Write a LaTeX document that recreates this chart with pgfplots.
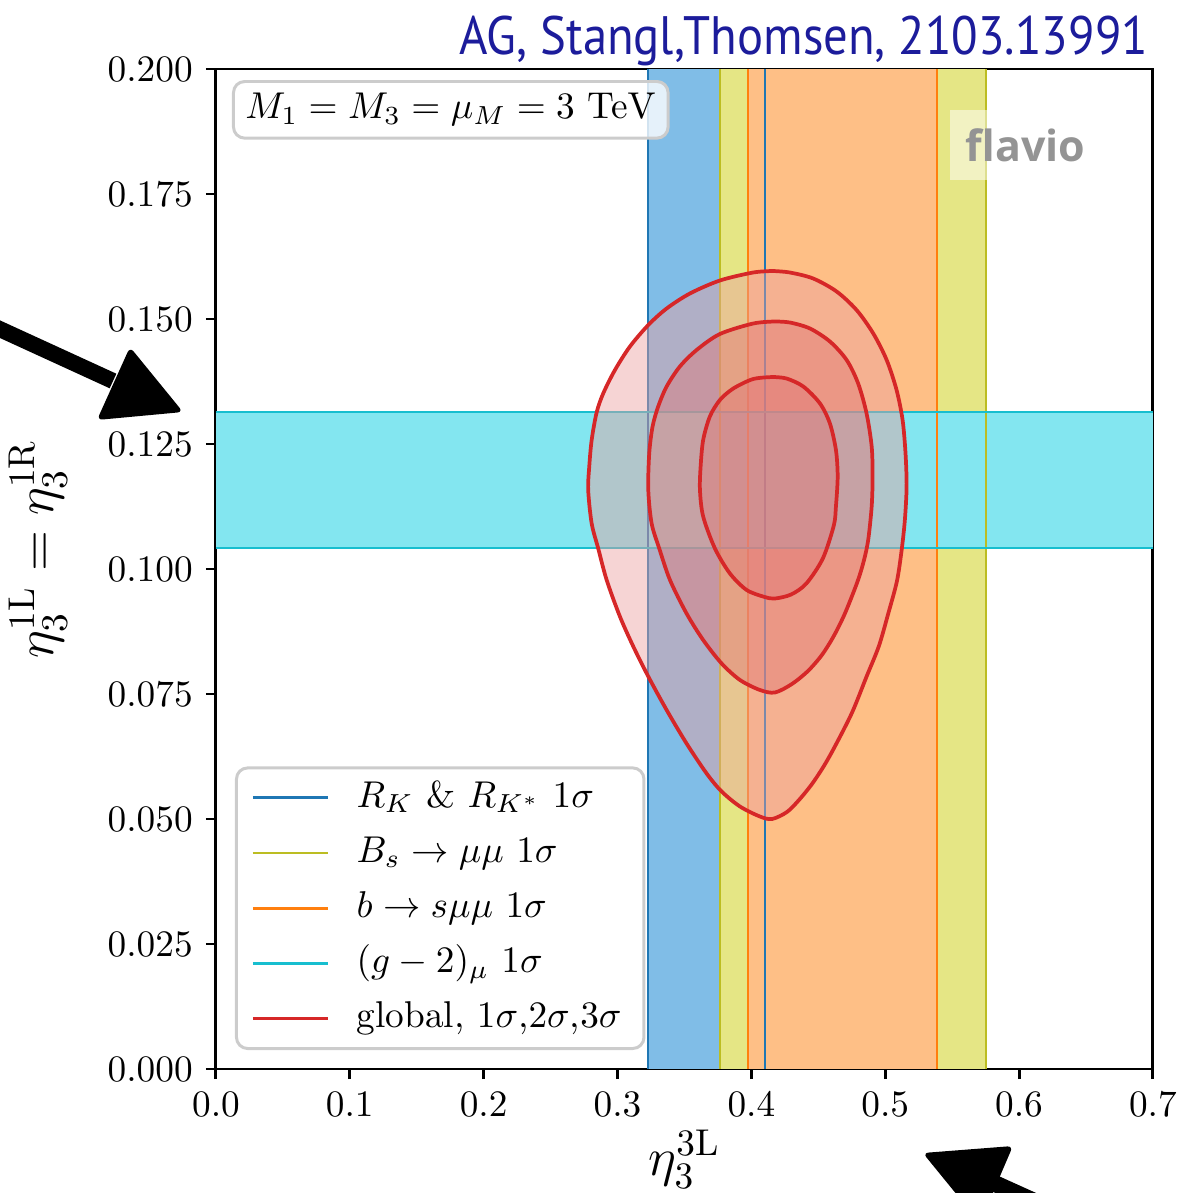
\documentclass[border=0pt]{standalone}
\usepackage[no-math]{fontspec}
\usepackage{pgfplots}
\pgfplotsset{compat=1.18}
\newfontfamily\gillfont{PT Sans}
\newfontfamily\flaviofont{Open Sans}
\protected\def\legA{$R_K$ \& $R_{K^*}$ $1\sigma$}
\protected\def\legB{$B_s\rightarrow\mu\mu$ $1\sigma$}
\protected\def\legC{$b\rightarrow s\mu\mu$ $1\sigma$}
\protected\def\legD{$(g-2)_{\mu}$ $1\sigma$}
\protected\def\legE{global, $1\sigma$,$2\sigma$,$3\sigma$}
\protected\def\boxtext{$M_1 = M_3 = \mu_M = 3~\mathrm{TeV}$}
\definecolor{tabblue}{HTML}{1F77B4}
\definecolor{tabolive}{HTML}{BCBD22}
\definecolor{taborange}{HTML}{FF7F0E}
\definecolor{tabcyan}{HTML}{17BECF}
\definecolor{tabred}{HTML}{D62728}
\definecolor{fblue}{RGB}{128,189,231}
\definecolor{folive}{RGB}{229,230,133}
\definecolor{forange}{RGB}{254,191,134}
\definecolor{fcyan}{RGB}{131,230,240}
\definecolor{fred3}{RGB}{235,160,160}
\definecolor{fred2}{RGB}{225,120,120}
\definecolor{agblue}{RGB}{28,28,155}
\begin{document}
\begin{tikzpicture}
\begin{axis}[
  width=251.1pt, height=268pt, scale only axis,
  xmin=0, xmax=0.7, ymin=0, ymax=0.2,
  xtick={0,0.1,0.2,0.3,0.4,0.5,0.6,0.7},
  ytick={0,0.025,0.05,0.075,0.1,0.125,0.15,0.175,0.2},
  scaled ticks=false,
  xticklabel style={/pgf/number format/.cd, fixed, fixed zerofill, precision=1},
  yticklabel style={/pgf/number format/.cd, fixed, fixed zerofill, precision=3},
  tick align=outside, major tick length=2.7pt,
  xtick pos=lower, ytick pos=left,
  axis line style={line width=0.8pt},
  every tick/.style={black, line width=0.8pt},
  clip mode=individual,
  xlabel={$\eta_3^{3\mathrm{L}}$},
  ylabel={$\eta_3^{1\mathrm{L}}=\eta_3^{1\mathrm{R}}$},
  label style={font=\fontsize{14}{16}\selectfont},
  xlabel style={at={(axis description cs:0.5,-0.048)}, anchor=north},
  ylabel style={at={(axis description cs:-0.145,0.52)}, anchor=south},
  legend style={at={(0.0203,0.019)}, anchor=south west, draw=black!20, line width=0.8pt,
    rounded corners=3pt, fill=white, fill opacity=0.8, text opacity=1, draw opacity=1,
    font=\fontsize{10}{12}\selectfont, inner xsep=4pt, inner ysep=1.5pt, row sep=1.8pt,
    nodes={text height=7.5pt, text depth=2.5pt, inner ysep=1.5pt}},
  legend image code/.code={\draw[#1,line width=0.8pt] (0pt,0pt) -- (20pt,0pt); \path (25.4pt,0pt);},
  legend cell align=left,
]
% filled bands
\addplot[fill=fblue, draw=none, forget plot] coordinates {(0.3227,0) (0.4101,0) (0.4101,0.2) (0.3227,0.2)};
\addplot[fill=folive, draw=none, forget plot] coordinates {(0.3765,0) (0.5752,0) (0.5752,0.2) (0.3765,0.2)};
\addplot[fill=forange, draw=none, forget plot] coordinates {(0.3974,0) (0.5386,0) (0.5386,0.2) (0.3974,0.2)};
\addplot[fill=fcyan, draw=none, forget plot] coordinates {(0,0.1042) (0.7,0.1042) (0.7,0.1314) (0,0.1314)};
% band edges
\addplot[tabblue, line width=0.7pt, forget plot] coordinates {(0.3227,0) (0.3227,0.2)};
\addplot[tabblue, line width=0.7pt, forget plot] coordinates {(0.4101,0) (0.4101,0.2)};
\addplot[tabolive, line width=0.7pt, forget plot] coordinates {(0.3765,0) (0.3765,0.2)};
\addplot[tabolive, line width=0.7pt, forget plot] coordinates {(0.5752,0) (0.5752,0.2)};
\addplot[taborange, line width=0.7pt, forget plot] coordinates {(0.3974,0) (0.3974,0.2)};
\addplot[taborange, line width=0.7pt, forget plot] coordinates {(0.5386,0) (0.5386,0.2)};
\addplot[tabcyan, line width=0.7pt, forget plot] coordinates {(0,0.1042) (0.7,0.1042)};
\addplot[tabcyan, line width=0.7pt, forget plot] coordinates {(0,0.1314) (0.7,0.1314)};
% global contours (3 sigma, 2 sigma, 1 sigma)
\addplot[smooth, draw=tabred, line width=1pt, fill=fred3, fill opacity=0.45, forget plot] coordinates {
(0.4161,0.1596) (0.4288,0.1593) (0.4462,0.1581) (0.4637,0.1555) (0.4786,0.1518) (0.4911,0.1471)
(0.5011,0.1418) (0.5085,0.1358) (0.5130,0.1298) (0.5152,0.1231) (0.5160,0.1165) (0.5147,0.1098)
(0.5123,0.1038) (0.5088,0.0976) (0.5023,0.0911) (0.4953,0.0846) (0.4861,0.0785) (0.4751,0.0712)
(0.4624,0.0645) (0.4542,0.0606) (0.4453,0.0570) (0.4356,0.0538) (0.4266,0.0514) (0.4155,0.0500)
(0.4064,0.0505) (0.3915,0.0525) (0.3778,0.0555) (0.3666,0.0591) (0.3516,0.0651) (0.3367,0.0718)
(0.3230,0.0785) (0.3118,0.0845) (0.3018,0.0905) (0.2919,0.0978) (0.2856,0.1041) (0.2807,0.1091)
(0.2781,0.1158) (0.2789,0.1205) (0.2807,0.1258) (0.2844,0.1313) (0.2893,0.1351) (0.2981,0.1398)
(0.3093,0.1445) (0.3230,0.1488) (0.3367,0.1521) (0.3541,0.1551) (0.3765,0.1577) (0.4014,0.1593)
(0.4161,0.1596)};
\addplot[smooth, draw=tabred, line width=1pt, fill=fred2, fill opacity=0.45, forget plot] coordinates {
(0.4176,0.1495) (0.4288,0.1493) (0.4438,0.1481) (0.4587,0.1455) (0.4712,0.1418) (0.4798,0.1371)
(0.4861,0.1311) (0.4899,0.1245) (0.4906,0.1185) (0.4899,0.1125) (0.4873,0.1058) (0.4840,0.1016)
(0.4792,0.0974) (0.4699,0.0911) (0.4616,0.0866) (0.4527,0.0828) (0.4423,0.0796) (0.4303,0.0770)
(0.4176,0.0753) (0.4064,0.0758) (0.3915,0.0778) (0.3778,0.0811) (0.3640,0.0858) (0.3516,0.0911)
(0.3392,0.0978) (0.3312,0.1041) (0.3255,0.1091) (0.3230,0.1158) (0.3237,0.1231) (0.3262,0.1285)
(0.3304,0.1325) (0.3367,0.1365) (0.3466,0.1405) (0.3591,0.1438) (0.3765,0.1470) (0.4014,0.1491)
(0.4176,0.1495)};
\addplot[smooth, draw=tabred, line width=1pt, fill=fred2, fill opacity=0.45, forget plot] coordinates {
(0.4163,0.1384) (0.4263,0.1381) (0.4388,0.1365) (0.4513,0.1331) (0.4587,0.1291) (0.4632,0.1238)
(0.4645,0.1185) (0.4632,0.1125) (0.4616,0.1087) (0.4534,0.1021) (0.4411,0.0971) (0.4297,0.0949)
(0.4176,0.0941) (0.4100,0.0944) (0.3965,0.0958) (0.3840,0.0991) (0.3728,0.1041) (0.3640,0.1105)
(0.3616,0.1158) (0.3621,0.1205) (0.3640,0.1258) (0.3690,0.1305) (0.3765,0.1338) (0.3865,0.1361)
(0.4014,0.1380) (0.4163,0.1384)};
% legend
\addlegendimage{tabblue}
\addlegendentry{\legA}
\addlegendimage{tabolive}
\addlegendentry{\legB}
\addlegendimage{taborange}
\addlegendentry{\legC}
\addlegendimage{tabcyan}
\addlegendentry{\legD}
\addlegendimage{tabred}
\addlegendentry{\legE}
% annotations
\node[anchor=north west, draw=black!20, line width=0.8pt, rounded corners=3pt, fill=white,
  fill opacity=0.8, text opacity=1, draw opacity=1, font=\fontsize{10}{12}\selectfont,
  inner xsep=3.2pt, inner ysep=3.2pt] at (rel axis cs:0.0171,0.989) {\boxtext};
\node[font=\flaviofont\bfseries\fontsize{11.5}{11.5}\selectfont, text=black!42, fill=white,
  fill opacity=0.5, text opacity=1, inner xsep=4.3pt, inner ysep=5pt]
  at (rel axis cs:0.864,0.924) {flavio};
\node[anchor=base east, text=agblue, inner sep=0pt, font=\gillfont\fontsize{14.5}{14.5}\selectfont]
  at (rel axis cs:0.9957,1.015) {\scalebox{0.9}[1]{AG, Stangl,Thomsen, 2103.13991}};
\coordinate (LS1) at (rel axis cs:-0.2519,0.749);
\coordinate (LS2) at (rel axis cs:-0.1099,0.688);
\coordinate (LA1) at (rel axis cs:-0.0918,0.722);
\coordinate (LA2) at (rel axis cs:-0.1270,0.649);
\coordinate (LA3) at (rel axis cs:-0.0352,0.657);
\coordinate (BA1) at (rel axis cs:0.7545,-0.084);
\coordinate (BA2) at (rel axis cs:0.8506,-0.077);
\coordinate (BA3) at (rel axis cs:0.8154,-0.154);
\coordinate (BS1) at (rel axis cs:0.8324,-0.115);
\coordinate (BS2) at (rel axis cs:0.9648,-0.171);
\coordinate (BBL) at (rel axis cs:-0.23052,-0.124);
\coordinate (BTR) at (rel axis cs:1.03095,1.069);
\end{axis}
\draw[black, line width=4.3pt] (LS1) -- (LS2);
\fill[black, rounded corners=1.5pt] (LA1) -- (LA2) -- (LA3) -- cycle;
\draw[black, line width=4.5pt] (BS1) -- (BS2);
\fill[black, rounded corners=1.5pt] (BA1) -- (BA2) -- (BA3) -- cycle;
\pgfresetboundingbox
\path[use as bounding box] (BBL) rectangle (BTR);
\end{tikzpicture}
\end{document}
